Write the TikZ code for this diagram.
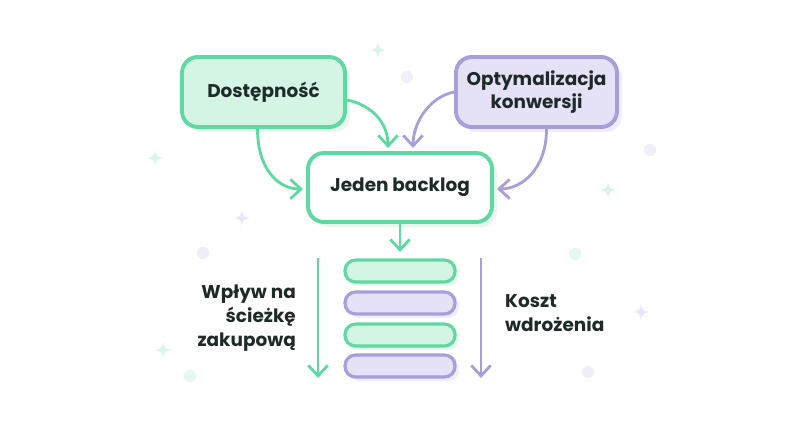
\documentclass[tikz,border=0pt]{standalone}
\usepackage{fontspec}
\setmainfont{Poppins}
\usetikzlibrary{arrows.meta, positioning}
\definecolor{gline}{HTML}{5ED9A0}
\definecolor{gfill}{HTML}{D5F5E4}
\definecolor{gshad}{HTML}{E8F8EF}
\definecolor{pline}{HTML}{A99DDB}
\definecolor{pfill}{HTML}{E5E1F7}
\definecolor{pshad}{HTML}{EFEDF9}
\definecolor{ink}{HTML}{1E2A2A}
\newcommand{\px}{0.02cm}
\tikzset{
  box/.style={draw, line width=2.2pt, rounded corners=9pt, font=\bfseries\fontsize{10.5}{13}\selectfont, text=ink, align=center, inner sep=0pt},
  bar/.style={draw, line width=1.8pt, rounded corners=6pt, minimum width={110*\px}, minimum height={22*\px}, inner sep=0pt},
  lbl/.style={font=\bfseries\fontsize{10.5}{13.5}\selectfont, text=ink},
  con/.style={line width=1.6pt, -{Straight Barb[length=6pt, width=11pt, line width=1.6pt]}},
  dot/.style={fill=#1, circle, inner sep=0pt, minimum size=7pt}
}
\newcommand{\sparkle}[3]{\fill[#3] (#1,#2) ++(0,-8) .. controls +(1,6) and +(-6,-1) .. ++(8,8) .. controls +(-6,1) and +(1,-6) .. ++(-8,8) .. controls +(-1,-6) and +(6,1) .. ++(-8,-8) .. controls +(6,-1) and +(-1,6) .. cycle;}
\begin{document}
\begin{tikzpicture}[x=0.02cm, y=-0.02cm]
\useasboundingbox (0,0) rectangle (800,420);

% Decorations
\sparkle{378}{50}{gshad!60!gline!50}
\sparkle{155}{158}{gshad!60!gline!50}
\sparkle{608}{190}{gshad!60!gline!50}
\sparkle{163}{350}{gshad!60!gline!50}
\sparkle{242}{218}{pshad!60!pline!50}
\sparkle{641}{312}{pshad!60!pline!50}
\node[dot=pshad!70!pline!40] (d1) at (407,77) {};
\node[dot=pshad!70!pline!40] (d2) at (203,253) {};
\node[dot=gshad!70!gline!40] (d3) at (575,254) {};
\node[dot=gshad!70!gline!40] (d4) at (190,376) {};
\node[dot=pshad!70!pline!40] (d5) at (650,150) {};
\node[dot=pshad!70!pline!40] (d6) at (588,372) {};

% Boxes
\fill[gshad, rounded corners=9pt] (187,62) rectangle (350,132);
\node[box, fill=gfill, draw=gline, minimum width={163*\px}, minimum height={70*\px}] (dost) at (263.5,92) {Dostępność};
\fill[pshad, rounded corners=9pt] (461,62) rectangle (622,132);
\node[box, fill=pfill, draw=pline, minimum width={161*\px}, minimum height={70*\px}] (opt) at (536.5,92) {Optymalizacja\\konwersji};
\fill[gshad, rounded corners=9pt] (313,158) rectangle (497,227);
\node[box, fill=white, draw=gline, minimum width={184*\px}, minimum height={69*\px}] (backlog) at (400,187.5) {Jeden backlog};

% Stack
\foreach \y/\c [count=\i] in {271/g, 303/p, 335/g, 366/p}{
  \fill[\c shad, rounded corners=6pt] (349,\y-9) rectangle (459,\y+15);
  \node[bar, fill=\c fill, draw=\c line] (bar\i) at (400,\y) {};
}

% Connectors
\coordinate (t1) at (388,148);
\coordinate (t2) at (413,148);
\coordinate (t3) at (303,189);
\coordinate (t4) at (497,189);
\draw[con, gline] (dost.east) ++(0,8) .. controls +(25,5) and +(0,-25) .. (t1);
\draw[con, gline] (dost.south) ++(-6,0) .. controls +(0,40) and +(-25,0) .. (t3);
\draw[con, pline] (opt.west) ++(0,0) .. controls +(-25,5) and +(0,-25) .. (t2);
\draw[con, pline] (opt.south) ++(10,0) .. controls +(0,40) and +(25,0) .. (t4);
\draw[con, gline] (backlog.south) -- ++(0,28);
\coordinate (l1) at (318,258); \coordinate (l2) at (318,378);
\coordinate (r1) at (481,258); \coordinate (r2) at (481,378);
\draw[con, gline] (l1) -- (l2);
\draw[con, pline] (r1) -- (r2);

% Labels
\node[lbl, align=right, anchor=east] (impact) at (302,318) {Wpływ na\\ścieżkę\\zakupową};
\node[lbl, align=left, anchor=west] (cost) at (499,313) {Koszt\\wdrożenia};
\end{tikzpicture}
\end{document}
